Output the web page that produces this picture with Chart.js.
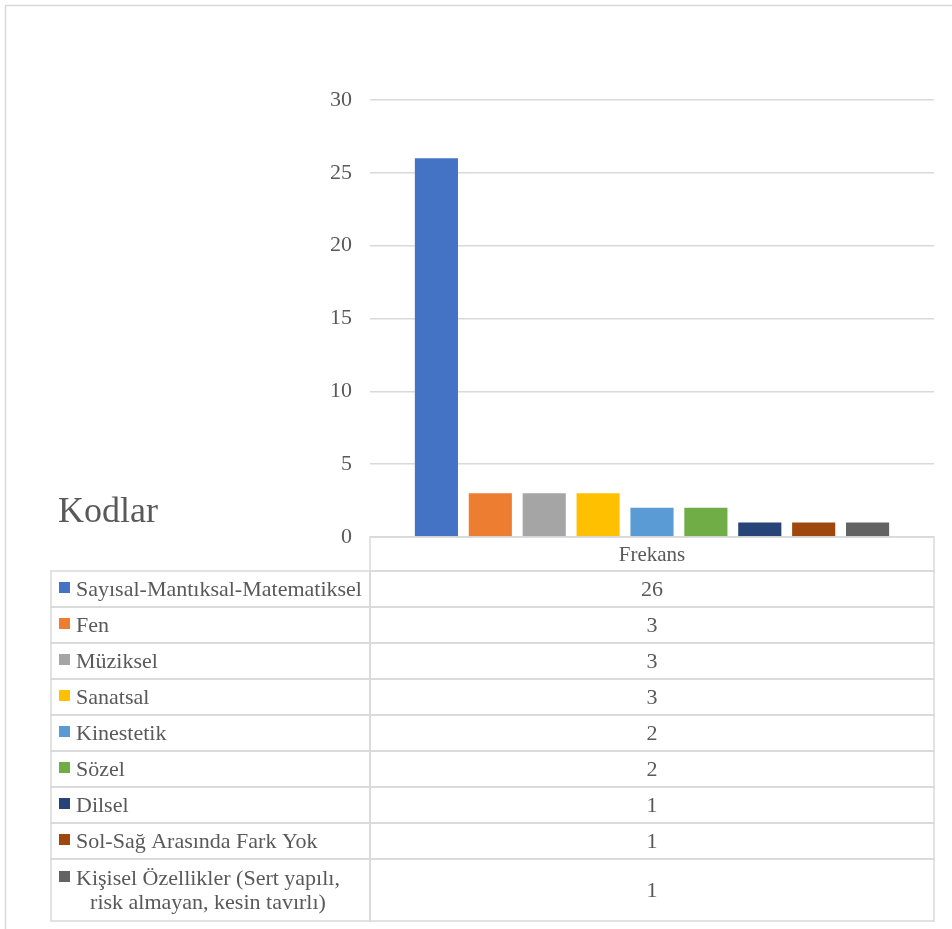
<!DOCTYPE html>
<html>
<head>
<meta charset="utf-8">
<script src="https://cdn.jsdelivr.net/npm/chart.js@4/dist/chart.umd.min.js"></script>
<style>
  html, body { margin: 0; padding: 0; background: #fff; }
  #wrap { width: 952px; height: 929px; }
</style>
</head>
<body>
<div id="wrap"><canvas id="myChart" width="952" height="929"></canvas></div>
<script>
// chart data
var xLabels = ['Frekans'];
var codeTitle = 'Kodlar';
var categories = [
    ['Sayısal-Mantıksal-Matematiksel'],
    ['Fen'],
    ['Müziksel'],
    ['Sanatsal'],
    ['Kinestetik'],
    ['Sözel'],
    ['Dilsel'],
    ['Sol-Sağ Arasında Fark Yok'],
    ['Kişisel Özellikler (Sert yapılı,', 'risk almayan, kesin tavırlı)']
];
var frekans = [26, 3, 3, 3, 2, 2, 1, 1, 1];
var colors = ['#4472C4', '#ED7D31', '#A5A5A5', '#FFC000', '#5B9BD5', '#70AD47', '#264478', '#9E480E', '#636363'];
var yMin = 0, yMax = 30, yStep = 5;

var FONT = '"Liberation Serif", "DejaVu Serif", serif';
var TEXT = '#595959';
var LINE = '#d9d9d9';

// one dataset per code, all in the single "Frekans" category
var datasets = [];
for (var i = 0; i < categories.length; i++) {
    datasets.push({
        label: categories[i].join(' '),
        data: [frekans[i]],
        backgroundColor: colors[i],
        borderWidth: 0,
        categoryPercentage: 0.86,
        barPercentage: 0.8
    });
}

// draws the outer frame, the "Kodlar" title and the data table below the plot
var tablePlugin = {
    id: 'dataTable',
    beforeDraw: function(chart) {
        var ctx = chart.ctx;
        ctx.save();
        ctx.strokeStyle = LINE;
        ctx.lineWidth = 1.5;
        ctx.strokeRect(5.5, 5.5, 1100, 1100);
        ctx.restore();
    },
    afterDraw: function(chart) {
        var ctx = chart.ctx;
        var a = chart.chartArea;
        var left = 51, mid = a.left, right = a.right;
        var top = a.bottom;
        var headH = 34, rowH = 36, lineH = 24;

        ctx.save();
        ctx.strokeStyle = LINE;
        ctx.lineWidth = 1.5;
        ctx.fillStyle = TEXT;
        ctx.textBaseline = 'middle';

        // header cell
        ctx.strokeRect(mid, top, right - mid, headH);
        ctx.font = '21px ' + FONT;
        ctx.textAlign = 'center';
        ctx.fillText(xLabels[0], (mid + right) / 2, top + headH / 2 + 1);

        var y = top + headH;
        for (var i = 0; i < categories.length; i++) {
            var lines = categories[i];
            var h = lines.length > 1 ? rowH + (lines.length - 1) * lineH + 2 : rowH;
            ctx.strokeRect(left, y, mid - left, h);
            ctx.strokeRect(mid, y, right - mid, h);

            var firstY = y + h / 2 - (lines.length - 1) * lineH / 2;
            // legend key
            ctx.fillStyle = colors[i];
            ctx.fillRect(59, firstY - 7, 11, 11);
            // code name
            ctx.fillStyle = TEXT;
            ctx.font = '22px ' + FONT;
            if (lines.length === 1) {
                ctx.textAlign = 'left';
                ctx.fillText(lines[0], 76, firstY + 1);
            } else {
                var w = ctx.measureText(lines[0]).width;
                ctx.textAlign = 'center';
                for (var k = 0; k < lines.length; k++) {
                    ctx.fillText(lines[k], 76 + w / 2, firstY + k * lineH + 1);
                }
            }
            // value
            ctx.textAlign = 'center';
            ctx.fillText(String(frekans[i]), (mid + right) / 2, y + h / 2 + 1);
            y += h;
        }

        // title on the left
        ctx.font = '36px ' + FONT;
        ctx.textAlign = 'left';
        ctx.textBaseline = 'alphabetic';
        ctx.fillText(codeTitle, 58, 522);
        ctx.restore();
    }
};

var chart = new Chart('myChart', {
    type: 'bar',
    data: {
        labels: xLabels,
        datasets: datasets
    },
    options: {
        responsive: false,
        animation: false,
        layout: { padding: { top: 100, right: 18, bottom: 392, left: 300 } },
        plugins: {
            legend: { display: false },
            tooltip: { enabled: false }
        },
        scales: {
            x: { display: false },
            y: {
                min: yMin,
                max: yMax,
                afterFit: function(scale) { scale.width = 70; },
                ticks: {
                    stepSize: yStep,
                    padding: 18,
                    color: TEXT,
                    font: { family: FONT, size: 22 }
                },
                grid: { color: LINE, lineWidth: 1.5, drawTicks: false },
                border: { display: false }
            }
        }
    },
    plugins: [tablePlugin]
});
</script>
</body>
</html>
